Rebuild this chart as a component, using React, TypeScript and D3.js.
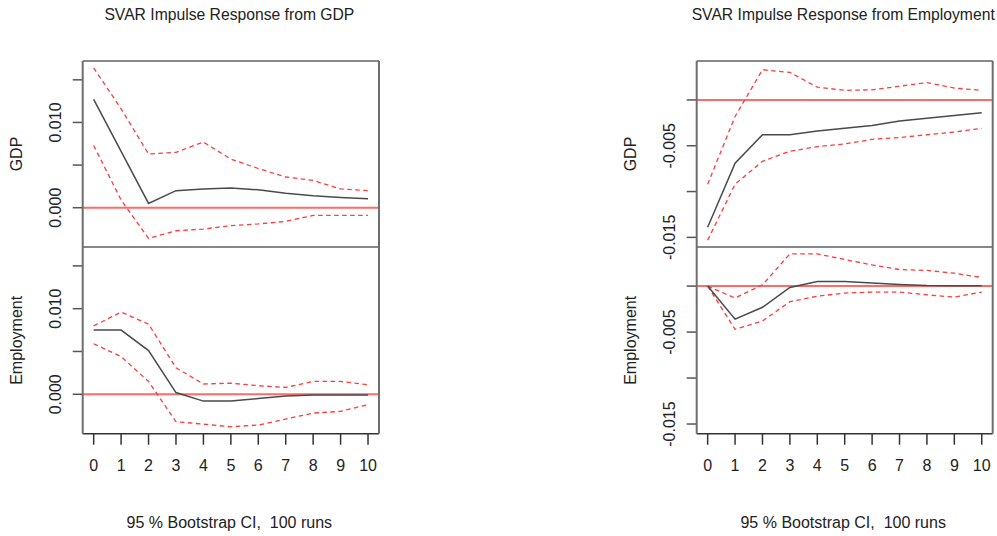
import React from "react";
import * as d3 from "d3";

// Forecast horizons
const steps = [0, 1, 2, 3, 4, 5, 6, 7, 8, 9, 10];

// Impulse: GDP
const gdpFromGdp = [0.0127, 0.0066, 0.0005, 0.002, 0.0022, 0.0023, 0.0021, 0.0017, 0.0014, 0.0012, 0.00105];
const gdpFromGdpLo = [0.0073, 0.0009, -0.0036, -0.0027, -0.0025, -0.0021, -0.0019, -0.0016, -0.0009, -0.0009, -0.0009];
const gdpFromGdpHi = [0.0164, 0.0116, 0.0063, 0.0065, 0.0077, 0.0057, 0.0046, 0.0036, 0.0032, 0.0022, 0.002];

const empFromGdp = [0.0075, 0.0075, 0.0051, 0.0002, -0.0008, -0.0008, -0.0005, -0.0002, -0.0001, -0.0001, -0.0001];
const empFromGdpLo = [0.0059, 0.0044, 0.0015, -0.0032, -0.0035, -0.0038, -0.0036, -0.0029, -0.0022, -0.002, -0.0012];
const empFromGdpHi = [0.008, 0.0096, 0.0082, 0.0031, 0.0012, 0.0013, 0.001, 0.0008, 0.0015, 0.0015, 0.0011];

// Impulse: Employment
const gdpFromEmp = [-0.0139, -0.0069, -0.0038, -0.0038, -0.0034, -0.0031, -0.0028, -0.0023, -0.002, -0.0017, -0.0014];
const gdpFromEmpLo = [-0.0153, -0.0092, -0.0067, -0.0056, -0.0051, -0.0048, -0.0043, -0.0041, -0.0038, -0.0035, -0.0031];
const gdpFromEmpHi = [-0.0092, -0.0018, 0.0033, 0.003, 0.0014, 0.00105, 0.0011, 0.0015, 0.0019, 0.0013, 0.00105];

const empFromEmp = [0, -0.0036, -0.0023, -0.00015, 0.0005, 0.0005, 0.00033, 0.00017, 0.00007, 0.00005, 0.00005];
const empFromEmpLo = [0, -0.0047, -0.0038, -0.0017, -0.0011, -0.00076, -0.00065, -0.00065, -0.00095, -0.0012, -0.00065];
const empFromEmpHi = [0, -0.0013, 0.00014, 0.0035, 0.0035, 0.0029, 0.0023, 0.0018, 0.0017, 0.0014, 0.00094];

const leftTicks = [0, 0.005, 0.01, 0.015];
const leftLabels = ["0.000", "", "0.010", ""];
const rightTicks = [0, -0.005, -0.01, -0.015];
const rightLabels = ["", "-0.005", "", "-0.015"];

const responseNames = ["GDP", "Employment"];
const impulseTitles = ["SVAR Impulse Response from GDP", "SVAR Impulse Response from Employment"];
const footer = "95 % Bootstrap CI,  100 runs";

type Resp = { mid: number[]; lo: number[]; hi: number[] };

const impulses: { title: string; responses: Resp[]; ticks: number[]; labels: string[] }[] = [
  {
    title: impulseTitles[0],
    responses: [
      { mid: gdpFromGdp, lo: gdpFromGdpLo, hi: gdpFromGdpHi },
      { mid: empFromGdp, lo: empFromGdpLo, hi: empFromGdpHi },
    ],
    ticks: leftTicks,
    labels: leftLabels,
  },
  {
    title: impulseTitles[1],
    responses: [
      { mid: gdpFromEmp, lo: gdpFromEmpLo, hi: gdpFromEmpHi },
      { mid: empFromEmp, lo: empFromEmpLo, hi: empFromEmpHi },
    ],
    ticks: rightTicks,
    labels: rightLabels,
  },
];

const W = 997;
const H = 536;
const FONT = "'Liberation Sans', Arial, sans-serif";
const TEXT = "#222";
const panelX = [
  [82.7, 379],
  [696.7, 992.7],
];
const yTop = 61;
const yMid = 247;
const yBot = 433.7;

// Extend a range by 4% on each side
function padded(lo: number, hi: number): [number, number] {
  const p = (hi - lo) * 0.04;
  return [lo - p, hi + p];
}

function ImpulseBlock({ idx }: { idx: number }) {
  const imp = impulses[idx];
  const [x0, x1] = panelX[idx];
  const cx = (x0 + x1) / 2;
  const x = d3
    .scaleLinear()
    .domain(padded(d3.min(steps)!, d3.max(steps)!))
    .range([x0, x1]);
  const all = imp.responses.flatMap((r) => [...r.mid, ...r.lo, ...r.hi]);
  const yDomain = padded(d3.min(all)!, d3.max(all)!);
  const bands: [number, number][] = [
    [yTop, yMid],
    [yMid, yBot],
  ];
  const tickLabelX = x0 - 27.7;
  const axisLabelX = x0 - 66;

  return (
    <g>
      <text x={cx - 1.5} y={14} textAnchor="middle" dominantBaseline="central" fontSize={15.7} fill={TEXT}>
        {imp.title}
      </text>
      {imp.responses.map((r, i) => {
        const [top, bot] = bands[i];
        const y = d3.scaleLinear().domain(yDomain).range([bot, top]);
        const line = d3
          .line<number>()
          .x((_, j) => x(steps[j]))
          .y((v) => y(v));
        return (
          <g key={i}>
            <line x1={x0} x2={x1} y1={y(0)} y2={y(0)} stroke="#ff6a6a" strokeWidth={2} />
            <path d={line(r.hi)!} fill="none" stroke="#ff3b3b" strokeWidth={1.3} strokeDasharray="4.5,3.5" />
            <path d={line(r.lo)!} fill="none" stroke="#ff3b3b" strokeWidth={1.3} strokeDasharray="4.5,3.5" />
            <path d={line(r.mid)!} fill="none" stroke="#4a4a4a" strokeWidth={1.5} />
            {imp.ticks.map((t, k) => (
              <g key={k}>
                <line x1={x0 - 10} x2={x0} y1={y(t)} y2={y(t)} stroke="#555" strokeWidth={1.5} />
                {imp.labels[k] && (
                  <text
                    transform={`translate(${tickLabelX},${y(t)}) rotate(-90)`}
                    textAnchor="middle"
                    dominantBaseline="central"
                    fontSize={16}
                    fill={TEXT}
                  >
                    {imp.labels[k]}
                  </text>
                )}
              </g>
            ))}
            <text
              transform={`translate(${axisLabelX},${(top + bot) / 2}) rotate(-90)`}
              textAnchor="middle"
              dominantBaseline="central"
              fontSize={16}
              fill={TEXT}
            >
              {responseNames[i]}
            </text>
          </g>
        );
      })}
      {/* frame */}
      <line x1={x0} x2={x1} y1={yTop} y2={yTop} stroke="#111" strokeWidth={1.2} />
      <line x1={x0} x2={x1} y1={yMid} y2={yMid} stroke="#111" strokeWidth={1.2} />
      <line x1={x0} x2={x1} y1={yBot} y2={yBot} stroke="#333" strokeWidth={1.5} />
      <line x1={x0} x2={x0} y1={yTop} y2={yBot} stroke="#6e6e6e" strokeWidth={2} />
      <line x1={x1} x2={x1} y1={yTop} y2={yBot} stroke="#6e6e6e" strokeWidth={2} />
      {steps.map((s) => (
        <g key={s}>
          <line x1={x(s)} x2={x(s)} y1={yBot} y2={yBot + 11} stroke="#333" strokeWidth={1.5} />
          <text x={x(s)} y={465} textAnchor="middle" dominantBaseline="central" fontSize={16} fill={TEXT}>
            {s}
          </text>
        </g>
      ))}
      <text
        x={cx - 1.5}
        y={522}
        textAnchor="middle"
        dominantBaseline="central"
        fontSize={16}
        fill={TEXT}
        style={{ whiteSpace: "pre" }}
      >
        {footer}
      </text>
    </g>
  );
}

export default function App() {
  return (
    <svg
      width={W}
      height={H}
      style={{ position: "absolute", left: 0, top: 0, background: "#fff" }}
      fontFamily={FONT}
    >
      <rect width={W} height={H} fill="#fff" />
      <ImpulseBlock idx={0} />
      <ImpulseBlock idx={1} />
    </svg>
  );
}
